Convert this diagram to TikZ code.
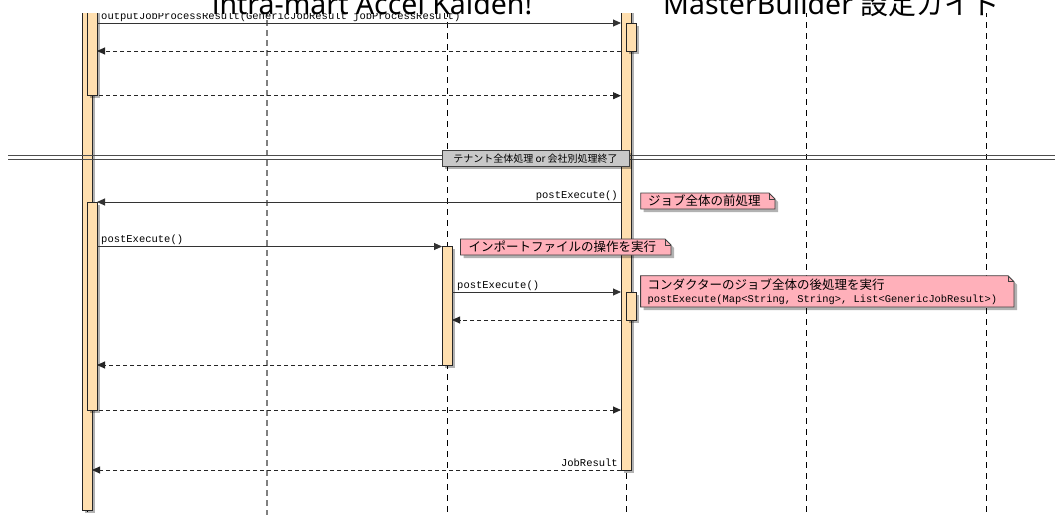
\documentclass[tikz,border=0pt]{standalone}
\usepackage{fontspec}
\setmainfont{Noto Sans}
\setmonofont{Liberation Mono}
\newfontfamily\jpfont{Noto Sans CJK JP}
\usetikzlibrary{arrows.meta,shadows}
\definecolor{barfill}{HTML}{FFDFAF}
\definecolor{notefill}{HTML}{FFB0BA}
\definecolor{divfill}{HTML}{C8C8C8}
\tikzset{
  lifeline/.style={draw=black, line width=0.7pt, dash pattern=on 6pt off 5pt},
  lifelinegray/.style={draw=black!50, line width=1.3pt, dash pattern=on 6pt off 4pt},
  actbar/.style={draw=black!85, fill=barfill, line width=0.8pt,
    drop shadow={shadow xshift=2.5pt, shadow yshift=-2.5pt, opacity=0.3, fill=black}},
  call/.style={draw=black!80, line width=0.9pt, -{Triangle[length=8pt,width=7pt]}},
  reply/.style={draw=black!85, line width=0.9pt, dash pattern=on 4pt off 3pt, -{Triangle[length=8pt,width=7pt]}},
  msglabel/.style={font=\ttfamily\fontsize{10.5}{12}\selectfont, inner sep=0pt},
  notebox/.style={draw=black!75, fill=notefill, line width=0.8pt,
    drop shadow={shadow xshift=3pt, shadow yshift=-3pt, opacity=0.3, fill=black}},
  notefold/.style={draw=black!75, line width=0.8pt},
  notetext/.style={font=\jpfont\fontsize{12.5}{14}\selectfont, inner sep=0pt, anchor=west},
  notecode/.style={font=\ttfamily\fontsize{10.4}{12}\selectfont, inner sep=0pt, anchor=west},
  divline/.style={draw=black!70, line width=0.9pt},
  divbox/.style={draw=black!75, fill=divfill, line width=0.8pt, inner sep=0pt,
    minimum width=187pt, minimum height=16.5pt,
    font=\jpfont\fontsize{10}{11}\selectfont,
    drop shadow={shadow xshift=2.5pt, shadow yshift=-2.5pt, opacity=0.3, fill=black}},
  titlefont/.style={font=\fontsize{28.5}{30}\selectfont, inner sep=0pt, anchor=base west},
}
\begin{document}
\begin{tikzpicture}[x=1pt,y=-1pt]
\useasboundingbox (0,0) rectangle (1055,515);
\fill[white] (0,0) rectangle (1055,515);

% lifelines
\draw[lifelinegray] (267,0) -- (267,515);
\draw[lifeline] (87,0) -- (87,515);
\draw[lifeline] (447,0) -- (447,515);
\draw[lifeline] (626,0) -- (626,515);
\draw[lifeline] (806,0) -- (806,515);
\draw[lifeline] (986,0) -- (986,515);

% activation bars
\path[actbar] (82,-5) rectangle (92,510);
\path[actbar] (87,-5) rectangle (97,95.7);
\path[actbar] (87,202) rectangle (97,410);
\path[actbar] (621,-5) rectangle (631,470);
\path[actbar] (626,23) rectangle (636,51);
\path[actbar] (626,292) rectangle (636,320);
\path[actbar] (442,246.5) rectangle (452,365);

% divider
\draw[divline] (8,155.7) -- (1055,155.7);
\draw[divline] (8,159.3) -- (1055,159.3);
\node[divbox] (div) at (535.5,158.3) {テナント全体処理 or 会社別処理終了};

% message end points
\coordinate (a1) at (97,23);    \coordinate (b1) at (621,23);
\coordinate (a2) at (621,51);   \coordinate (b2) at (97,51);
\coordinate (a3) at (92,95.7);  \coordinate (b3) at (621,95.7);
\coordinate (a4) at (621,202);  \coordinate (b4) at (97,202);
\coordinate (a5) at (97,246.5); \coordinate (b5) at (442,246.5);
\coordinate (a6) at (452,292);  \coordinate (b6) at (621,292);
\coordinate (a7) at (621,320);  \coordinate (b7) at (452,320);
\coordinate (a8) at (442,365);  \coordinate (b8) at (97,365);
\coordinate (a9) at (92,410);   \coordinate (b9) at (621,410);
\coordinate (a10) at (621,470); \coordinate (b10) at (92,470);

\draw[call] (a1) -- (b1);
\draw[reply] (a2) -- (b2);
\draw[reply] (a3) -- (b3);
\draw[call] (a4) -- (b4);
\draw[call] (a5) -- (b5);
\draw[call] (a6) -- (b6);
\draw[reply] (a7) -- (b7);
\draw[reply] (a8) -- (b8);
\draw[reply] (a9) -- (b9);
\draw[reply] (a10) -- (b10);

% message labels
\node[msglabel, anchor=base west] (l1) at (101,19) {outputJobProcessResult(GenericJobResult jobProcessResult)};
\node[msglabel, anchor=base east] (l4) at (618,198) {postExecute()};
\node[msglabel, anchor=base west] (l5) at (101,242.5) {postExecute()};
\node[msglabel, anchor=base west] (l6) at (457,288) {postExecute()};
\node[msglabel, anchor=base east] (l10) at (618,466) {JobResult};

% notes
\path[notebox] (640.7,193) -- (769,193) -- (775,199) -- (775,209) -- (640.7,209) -- cycle;
\draw[notefold] (769,193) -- (769,199) -- (775,199);
\node[notetext] (n1) at (648,201) {ジョブ全体の前処理};

\path[notebox] (460.5,239) -- (665,239) -- (671,245) -- (671,255) -- (460.5,255) -- cycle;
\draw[notefold] (665,239) -- (665,245) -- (671,245);
\node[notetext] (n2) at (468.5,247) {インポートファイルの操作を実行};

\path[notebox] (640.6,275.7) -- (1008,275.7) -- (1014,281.7) -- (1014,307) -- (640.6,307) -- cycle;
\draw[notefold] (1008,275.7) -- (1008,281.7) -- (1014,281.7);
\node[notetext] (n3a) at (647.5,284.5) {コンダクターのジョブ全体の後処理を実行};
\node[notecode] (n3b) at (647.5,300) {postExecute(Map<String, String>, List<GenericJobResult>)};

% page header band with title
\fill[white] (0,-40) rectangle (1055,12.8);
\node[titlefont] (t1) at (212,14.5) {intra-mart Accel Kaiden!};
\node[titlefont] (t2) at (663,14.5) {MasterBuilder {\jpfont\fontsize{28}{28}\selectfont 設定ガイド}};
\end{tikzpicture}
\end{document}
